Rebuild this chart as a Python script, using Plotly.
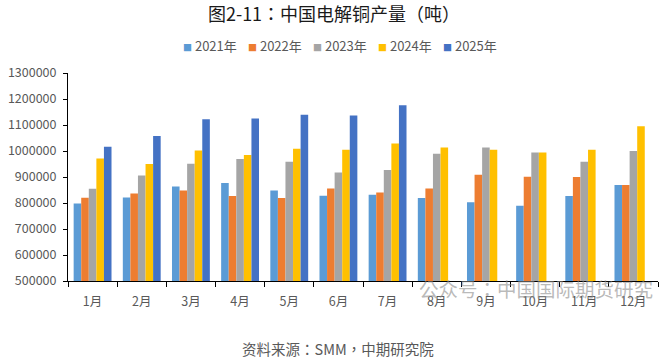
import plotly.graph_objects as go

months = ["1月", "2月", "3月", "4月", "5月", "6月", "7月", "8月", "9月", "10月", "11月", "12月"]
years = ["2021年", "2022年", "2023年", "2024年", "2025年"]
v2021 = [798000, 821000, 863000, 877000, 848000, 828000, 832000, 819000, 803000, 789000, 827000, 869000]
v2022 = [820000, 837000, 848000, 827000, 819000, 856000, 840000, 856000, 909000, 901000, 900000, 869000]
v2023 = [855000, 906000, 951000, 969000, 959000, 917000, 927000, 989000, 1013000, 994000, 959000, 1000000]
v2024 = [971000, 950000, 1002000, 985000, 1009000, 1005000, 1029000, 1013000, 1005000, 994000, 1005000, 1095000]
v2025 = [1016000, 1058000, 1122000, 1125000, 1139000, 1137000, 1176000]
colors = ["#5B9BD5", "#ED7D31", "#A5A5A5", "#FFC000", "#4472C4"]
series = [v2021, v2022, v2023, v2024, v2025]
yticks = [500000, 600000, 700000, 800000, 900000, 1000000, 1100000, 1200000, 1300000]

FONT = "Noto Sans CJK SC"
FONT_P = "Noto Sans CJK TC"
W, H = 671, 360
L, R, T, B = 68, 13, 73, 79
PW, PH = W - L - R, H - T - B


def px(x):
    return (x - L) / PW


def py(y):
    return (H - B - y) / PH


fig = go.Figure()
for name, vals, c in zip(years, series, colors):
    fig.add_trace(go.Bar(x=months[:len(vals)], y=vals, name=name, marker_color=c,
                         marker_line_width=0, showlegend=False))

fig.update_layout(
    width=W, height=H,
    margin=dict(l=L, r=R, t=T, b=B, autoexpand=False),
    paper_bgcolor="white", plot_bgcolor="white",
    font=dict(family=FONT, color="#595959", size=12),
    barmode="group", bargap=0.23, bargroupgap=0,
    title=dict(text="图2-11：中国电解铜产量（吨）", x=334 / W, xanchor="center",
               y=1 - 14.5 / H, yanchor="middle",
               font=dict(family=FONT_P, size=18, color="#1a1a1a")),
    showlegend=False,
)
fig.update_xaxes(type="category", categoryorder="array", categoryarray=months,
                 showline=True, linecolor="#000000", linewidth=1,
                 ticks="outside", tickson="boundaries", ticklen=5, tickcolor="#000000",
                 ticklabelstandoff=9,
                 showgrid=False, tickfont=dict(size=12.5, color="#595959"))
fig.update_yaxes(range=[500000, 1300000], tickvals=yticks, ticktext=[str(v) for v in yticks],
                 showline=True, linecolor="#000000", linewidth=1,
                 ticks="outside", ticklen=4, tickcolor="#000000", ticklabelstandoff=4,
                 showgrid=False, zeroline=False, tickfont=dict(size=12.5, color="#595959"))

# legend drawn as text entries
leg_x = [181, 246, 311, 376, 441]
for xx, name, c in zip(leg_x, years, colors):
    fig.add_annotation(text=f'<span style="color:{c};font-size:9px">■</span> {name}',
                       xref="paper", yref="paper", x=px(xx), y=py(45),
                       xanchor="left", yanchor="middle", showarrow=False,
                       font=dict(family=FONT, size=13, color="#595959"))

fig.add_annotation(text="资料来源：SMM，中期研究院", xref="paper", yref="paper", x=px(338), y=py(348),
                   xanchor="center", yanchor="middle", showarrow=False,
                   font=dict(family=FONT_P, size=14.5, color="#595959"))
fig.add_annotation(text="公众号：中国国际期货研究", xref="paper", yref="paper", x=px(655), y=py(288),
                   xanchor="right", yanchor="middle", showarrow=False,
                   font=dict(family=FONT_P, size=19.5, color="rgba(140,140,140,0.6)"))

fig.write_html("out.html", config={"displayModeBar": False},
               post_script="document.body.style.margin='0';document.body.style.overflow='hidden';")
